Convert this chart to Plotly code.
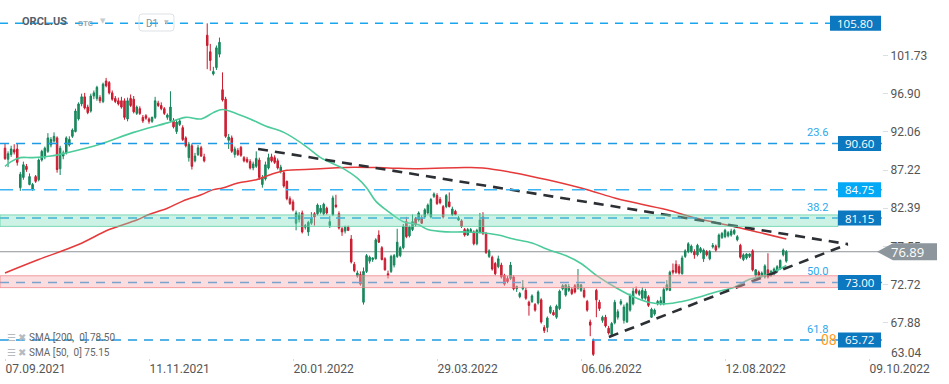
import plotly.graph_objects as go

# ---------------- data ----------------
opens = [90.0, 88.6, 89.2, 89.8, 89.9, 85.0, 86.3, 87.7, 85.4, 84.8,
         86.4, 86.0, 88.5, 88.9, 89.6, 90.4, 90.9, 91.3, 87.4, 89.0,
         89.4, 90.4, 91.5, 92.1, 93.7, 95.6, 96.5, 95.2, 94.7, 96.6,
         96.3, 96.4, 95.9, 98.5, 98.3, 97.0, 96.3, 96.0, 96.0, 96.0,
         93.7, 96.3, 96.2, 94.4, 95.0, 93.9, 94.1, 93.7, 93.4, 93.9,
         95.7, 95.4, 95.0, 93.9, 93.5, 93.45, 92.1, 93.0, 92.6, 91.3,
         88.8, 90.3, 88.4, 89.2, 90.05, 88.9, 104.3, 102.2, 99.4, 100.2,
         101.9, 97.4, 96.2, 91.0, 91.3, 89.2, 89.7, 90.1, 88.8, 88.6,
         88.3, 87.5, 87.7, 88.5, 85.4, 86.1, 87.5, 88.9, 88.8, 88.4,
         87.1, 86.9, 85.8, 83.6, 83.2, 80.5, 81.0, 81.8, 80.0, 79.4,
         80.5, 81.7, 81.7, 81.9, 81.7, 82.4, 80.2, 81.6, 82.8, 81.7,
         79.8, 79.5, 80.0, 78.5, 75.3, 73.8, 74.0, 70.5, 74.4, 75.7,
         75.9, 76.0, 79.0, 77.4, 76.0, 74.1, 74.4, 75.2, 76.3, 76.4,
         77.4, 80.7, 78.9, 79.7, 81.1, 80.9, 81.1, 81.3, 81.8, 81.3,
         83.9, 84.0, 83.5, 82.6, 82.6, 83.2, 81.6, 82.0, 80.9, 80.8,
         79.7, 79.0, 79.4, 79.4, 77.9, 79.4, 81.3, 79.2, 76.3, 76.2,
         75.4, 75.0, 75.2, 73.9, 73.5, 73.5, 73.7, 72.2, 71.2, 72.2,
         72.0, 70.5, 70.6, 70.2, 70.4, 70.8, 67.3, 67.3, 69.2, 69.2,
         68.6, 69.7, 72.2, 71.4, 72.0, 72.1, 72.6, 72.3, 72.0, 72.0,
         70.6, 68.0, 65.6, 72.0, 70.5, 68.2, 68.6, 67.2, 66.4, 67.9,
         68.6, 70.3, 68.2, 68.0, 69.5, 70.3, 72.1, 71.5, 71.0, 71.0,
         71.2, 68.6, 69.0, 70.3, 70.3, 70.3, 72.1, 72.0, 74.5, 75.3,
         75.0, 74.1, 76.3, 76.9, 76.9, 76.9, 76.5, 76.9, 76.0, 76.9,
         76.0, 77.5, 77.6, 77.5, 78.7, 78.8, 78.9, 79.0, 79.2, 78.4,
         77.7, 75.9, 76.1, 76.3, 77.0, 73.9, 74.3, 73.8, 73.7, 74.6,
         73.9, 74.1, 74.4, 74.8, 76.5, 75.7]
highs = [90.6, 89.6, 90.3, 90.5, 90.6, 87.0, 88.3, 88.0, 86.8, 85.6,
         86.6, 88.7, 89.8, 90.2, 91.9, 91.4, 92.0, 91.5, 90.3, 89.7,
         91.5, 91.5, 92.5, 95.0, 95.8, 96.9, 97.0, 95.5, 96.9, 97.3,
         97.9, 96.7, 98.3, 98.9, 98.5, 97.3, 96.6, 96.4, 96.5, 96.3,
         96.4, 96.8, 96.6, 95.4, 95.3, 94.2, 94.3, 93.9, 94.0, 96.5,
         96.0, 95.8, 95.2, 94.4, 97.2, 93.8, 93.6, 93.7, 92.9, 91.5,
         90.8, 90.6, 89.4, 90.4, 90.3, 89.3, 105.8, 103.2, 100.3, 103.0,
         104.0, 99.6, 96.5, 91.8, 91.6, 90.2, 90.0, 90.3, 89.0, 88.9,
         88.6, 88.3, 89.6, 88.8, 86.6, 88.3, 89.3, 89.3, 89.1, 88.7,
         87.9, 87.1, 85.9, 83.9, 83.5, 82.1, 81.9, 82.1, 80.4, 80.8,
         81.9, 81.9, 83.0, 82.8, 83.1, 82.6, 81.4, 84.0, 84.1, 82.0,
         80.0, 80.2, 80.2, 79.0, 75.6, 74.5, 74.4, 74.9, 76.6, 76.4,
         76.2, 78.6, 79.6, 77.6, 76.2, 74.5, 76.5, 76.6, 79.8, 77.6,
         80.4, 81.3, 80.2, 81.6, 81.3, 82.0, 81.5, 82.4, 83.0, 83.7,
         84.4, 84.3, 83.8, 82.8, 84.2, 84.4, 82.6, 82.2, 81.4, 81.0,
         79.9, 79.9, 79.9, 79.6, 79.8, 81.8, 81.9, 79.4, 77.2, 76.4,
         75.6, 76.4, 75.5, 74.1, 73.8, 75.6, 73.9, 72.6, 71.8, 73.3,
         72.3, 70.7, 71.5, 70.4, 72.0, 71.0, 67.6, 68.7, 70.1, 69.5,
         70.2, 72.1, 72.8, 72.8, 72.8, 72.4, 72.8, 74.7, 72.8, 72.3,
         70.8, 68.3, 65.9, 72.2, 70.8, 68.8, 68.9, 67.5, 68.0, 70.8,
         69.6, 70.9, 70.2, 70.5, 71.6, 72.3, 72.5, 72.1, 72.4, 72.2,
         71.4, 69.8, 69.7, 70.8, 71.2, 72.4, 73.3, 74.5, 75.4, 75.8,
         75.3, 76.4, 77.2, 78.1, 77.8, 77.2, 77.9, 77.5, 77.3, 77.1,
         77.1, 78.0, 77.8, 79.2, 79.4, 79.8, 79.5, 79.8, 79.8, 79.0,
         77.9, 76.7, 76.7, 76.7, 77.2, 74.7, 74.5, 74.4, 75.3, 76.7,
         74.6, 74.9, 75.2, 75.9, 77.3, 77.1]
lows = [88.5, 87.6, 88.9, 89.2, 87.8, 84.6, 86.0, 87.0, 85.3, 84.6,
        85.6, 85.8, 88.3, 88.6, 89.4, 90.1, 90.7, 86.9, 86.6, 88.6,
        89.2, 90.2, 91.3, 92.0, 93.5, 95.3, 94.9, 94.3, 94.5, 96.2,
        96.0, 95.7, 95.7, 97.7, 96.8, 96.0, 95.7, 95.4, 95.0, 93.6,
        93.4, 95.2, 94.4, 94.2, 94.2, 93.2, 93.6, 93.1, 93.2, 93.7,
        95.2, 94.8, 94.2, 93.6, 93.3, 92.5, 91.8, 92.8, 90.9, 90.1,
        88.3, 87.3, 88.2, 89.0, 88.9, 88.2, 100.0, 99.8, 99.2, 99.9,
        101.5, 95.9, 91.3, 89.9, 89.4, 88.8, 89.0, 88.9, 88.2, 88.1,
        87.3, 87.2, 87.5, 86.0, 85.0, 85.9, 87.3, 88.2, 88.0, 87.3,
        86.8, 85.0, 83.4, 82.8, 82.0, 79.6, 80.6, 79.2, 79.7, 78.9,
        80.3, 80.2, 81.5, 81.7, 81.5, 81.6, 79.9, 81.4, 82.4, 79.7,
        78.9, 79.2, 79.5, 75.4, 74.3, 73.6, 72.6, 70.2, 74.2, 75.4,
        75.6, 75.9, 78.0, 75.8, 74.5, 73.5, 74.2, 74.9, 76.1, 76.2,
        77.2, 78.6, 78.7, 79.5, 80.1, 80.7, 80.4, 81.1, 81.6, 81.1,
        83.7, 82.8, 82.9, 81.1, 82.4, 82.5, 81.4, 81.5, 80.8, 79.9,
        78.8, 78.9, 79.3, 77.7, 77.7, 79.2, 79.0, 76.6, 76.1, 74.5,
        73.9, 74.8, 73.5, 72.6, 72.9, 73.3, 72.0, 71.8, 71.0, 72.0,
        70.8, 68.8, 70.4, 69.3, 70.2, 67.8, 66.6, 66.7, 69.0, 68.8,
        68.4, 69.5, 72.0, 71.2, 71.8, 71.4, 71.6, 72.1, 71.8, 71.0,
        69.3, 66.2, 63.7, 68.6, 69.4, 67.9, 67.3, 66.4, 66.2, 67.7,
        68.3, 70.1, 67.8, 67.9, 69.3, 70.1, 71.5, 71.3, 70.8, 70.8,
        69.9, 68.5, 68.8, 70.1, 70.1, 70.1, 71.9, 71.9, 74.0, 74.1,
        74.0, 74.0, 76.1, 76.7, 76.7, 76.0, 76.3, 76.7, 75.6, 76.3,
        75.8, 77.3, 76.9, 77.3, 78.5, 78.6, 78.7, 78.8, 79.0, 78.2,
        76.0, 75.7, 75.9, 76.1, 74.4, 73.7, 73.8, 73.6, 73.5, 73.5,
        73.7, 73.9, 74.2, 74.6, 76.3, 75.5]
closes = [88.7, 89.3, 89.9, 89.5, 88.2, 86.7, 87.9, 87.3, 86.4, 85.4,
          85.8, 88.5, 89.6, 90.0, 91.3, 91.1, 91.5, 87.3, 90.0, 89.4,
          91.3, 91.1, 92.3, 94.7, 95.6, 96.5, 95.1, 94.5, 96.6, 97.0,
          97.7, 96.0, 98.1, 97.9, 97.0, 96.2, 95.9, 95.6, 95.2, 93.9,
          96.0, 95.4, 94.6, 95.2, 94.4, 93.45, 93.8, 93.4, 93.9, 96.0,
          95.4, 95.0, 94.4, 94.2, 95.2, 92.7, 93.3, 93.45, 91.1, 90.3,
          90.5, 87.7, 89.0, 90.05, 89.0, 88.4, 103.0, 101.1, 99.7, 102.7,
          103.4, 96.1, 91.5, 91.4, 89.6, 89.9, 89.2, 89.1, 88.4, 88.3,
          87.5, 88.0, 88.7, 86.3, 86.3, 87.9, 88.8, 88.4, 88.2, 87.5,
          87.6, 85.2, 83.6, 83.0, 82.2, 81.8, 81.5, 79.4, 80.2, 80.6,
          81.1, 81.3, 82.8, 82.4, 82.9, 81.8, 80.7, 83.7, 82.6, 79.9,
          79.4, 80.0, 79.6, 75.6, 74.5, 74.2, 72.8, 74.4, 76.4, 76.2,
          76.1, 78.4, 78.1, 75.9, 74.6, 73.9, 76.3, 76.4, 78.1, 77.4,
          80.1, 78.8, 80.0, 80.7, 80.3, 81.8, 80.5, 82.2, 82.8, 83.5,
          84.2, 83.0, 83.1, 81.3, 84.0, 82.6, 82.3, 81.6, 81.2, 80.1,
          79.0, 79.7, 79.7, 77.9, 79.6, 80.9, 79.2, 76.8, 77.0, 74.7,
          74.1, 76.0, 73.7, 72.8, 73.1, 75.2, 72.2, 72.5, 71.6, 72.4,
          71.0, 70.1, 71.3, 69.5, 71.8, 68.0, 66.9, 68.5, 69.9, 68.9,
          70.0, 71.9, 72.6, 72.7, 72.5, 71.6, 71.8, 72.8, 72.7, 71.2,
          69.5, 67.6, 63.9, 70.8, 69.7, 68.6, 67.5, 66.6, 67.8, 70.5,
          69.3, 70.6, 69.9, 70.3, 71.3, 71.9, 71.7, 71.9, 72.0, 71.9,
          70.1, 69.6, 69.5, 70.6, 70.7, 72.1, 72.7, 74.3, 74.3, 74.3,
          74.2, 76.1, 77.0, 77.9, 77.6, 76.5, 77.7, 77.3, 77.1, 76.5,
          76.9, 77.7, 77.1, 79.0, 79.2, 79.6, 79.3, 79.5, 79.6, 78.8,
          76.2, 76.5, 76.6, 76.6, 74.6, 74.6, 73.9, 74.2, 75.1, 73.7,
          74.4, 74.7, 75.0, 75.8, 77.1, 76.89]

sma50_idx = [0, 2, 5, 9, 15, 20, 31, 42, 53, 59, 64, 68, 71, 76, 80, 85, 91, 98,
             103, 110, 115, 118, 121, 125, 130, 135, 138, 144, 150, 156, 161, 166,
             172, 177, 183, 188, 193, 200, 205, 210, 216, 221, 227, 232, 238, 243,
             249, 255]
sma50_val = [87.7, 88.3, 88.8, 88.8, 89.0, 89.4, 90.5, 92.0, 93.2, 93.9, 93.7, 94.5,
             94.9, 94.3, 93.7, 92.8, 92.0, 90.3, 88.8, 87.5, 86.2, 85.0, 83.3, 82.0,
             80.7, 80.3, 79.7, 79.4, 79.4, 79.3, 79.0, 78.5, 78.0, 77.2, 76.4, 75.4,
             73.9, 72.2, 71.2, 70.5, 70.3, 70.6, 71.2, 71.8, 72.4, 73.4, 74.0, 75.15]
sma200_idx = [0, 11, 24, 34, 43, 47, 53, 58, 64, 68, 71, 76, 82, 87, 92, 98, 107,
              114, 125, 135, 150, 156, 166, 177, 188, 199, 203, 216, 225, 240, 255]
sma200_val = [74.2, 75.9, 77.8, 79.7, 80.9, 81.6, 82.4, 83.3, 84.1, 84.75, 84.95,
              85.6, 86.0, 86.7, 87.2, 87.3, 87.5, 87.6, 87.5, 87.4, 87.55, 87.5,
              86.9, 86.0, 84.95, 83.7, 83.3, 82.2, 81.2, 79.9, 78.5]

trend_down_x = [82.6, 275.1]
trend_down_y = [89.9, 77.85]
trend_up_x = [197.1, 275.1]
trend_up_y = [66.1, 77.85]

tick_idx = [0, 47, 94, 141, 188, 235, 282]
tick_text = ['07.09.2021', '11.11.2021', '20.01.2022', '29.03.2022',
             '06.06.2022', '12.08.2022', '09.10.2022']
price_ticks = [67.88, 72.72, 77.55, 82.39, 87.22, 92.06, 96.90, 101.73]
bottom_tick = '63.04'

levels = [105.80, 90.60, 84.75, 81.15, 73.00, 65.72]
fib_levels = [90.60, 81.15, 73.00, 65.72]
fib_text = ['23.6', '38.2', '50.0', '61.8']
green_zone = [80.1, 81.55]
red_zone = [72.35, 73.85]
last_price = 76.89
sma200_last = 78.50
sma50_last = 75.15

# ---------------- layout geometry ----------------
W, H = 949, 384
ML, MT = 0, 0
PW = 882                  # plot right edge at 882 px
PH = 358                  # plot bottom edge at 358 px
MR = W - ML - PW
MB = H - MT - PH
XR = [(0 - 5) / 3.064, (882 - 5) / 3.064]
YR = [101.73 - (358 - 55.5) / 7.9, 101.73 + 55.5 / 7.9]
upp = (YR[1] - YR[0]) / PH   # price units per pixel


def px(p):
    """window x pixel -> paper x"""
    return p / PW


def py(p):
    """window y pixel -> paper y"""
    return 1 - p / PH


fig = go.Figure()
x = list(range(len(closes)))
fig.add_trace(go.Candlestick(
    x=x, open=opens, high=highs, low=lows, close=closes,
    increasing=dict(line=dict(color='#15845a', width=1), fillcolor='#1a8f5f'),
    decreasing=dict(line=dict(color='#c81a2e', width=1), fillcolor='#d7263d'),
    whiskerwidth=0, hoverinfo='skip'))
fig.add_trace(go.Scatter(x=sma200_idx, y=sma200_val, mode='lines',
                         line=dict(color='#e5393a', width=1.5, shape='spline'),
                         hoverinfo='skip'))
fig.add_trace(go.Scatter(x=sma50_idx, y=sma50_val, mode='lines',
                         line=dict(color='#4ccb9b', width=1.6, shape='spline'),
                         hoverinfo='skip'))
for tx, ty in ((trend_down_x, trend_down_y), (trend_up_x, trend_up_y)):
    fig.add_trace(go.Scatter(x=tx, y=ty, mode='lines',
                             line=dict(color='#2c3034', width=2.6, dash='10px,7px'),
                             hoverinfo='skip'))

shapes = []
# last price line
shapes.append(dict(type='line', xref='paper', yref='y', x0=0, x1=1, y0=last_price,
                   y1=last_price, line=dict(color='#8e9498', width=1), layer='below'))
# horizontal dashed levels
for lvl in levels:
    if lvl == 84.75:
        ln = dict(color='#3ab4f2', width=1.5, dash='13px,9px')
    elif lvl == 105.80:
        ln = dict(color='#1aa6ee', width=1.5, dash='8px,7px')
    else:
        ln = dict(color='#1e9be4', width=1.5, dash='9px,7px')
    shapes.append(dict(type='line', xref='paper', yref='y', x0=0, x1=1, y0=lvl, y1=lvl,
                       line=ln, layer='above'))
# zones
shapes.append(dict(type='rect', xref='paper', yref='y', x0=0, x1=px(838),
                   y0=green_zone[0], y1=green_zone[1],
                   fillcolor='rgba(120,222,188,0.38)',
                   line=dict(color='rgba(90,205,160,0.75)', width=1), layer='above'))
shapes.append(dict(type='rect', xref='paper', yref='y', x0=0, x1=px(838),
                   y0=red_zone[0], y1=red_zone[1],
                   fillcolor='rgba(245,175,178,0.42)',
                   line=dict(color='rgba(240,130,135,0.75)', width=1), layer='above'))

annotations = []
# level boxes
for lvl in levels:
    txt = f'{lvl:.2f}'
    wbox = 8 * len(txt) + 3
    left = 881 - wbox
    col = '#03a9f4' if lvl == 84.75 else '#0b78bf'
    shapes.append(dict(type='rect', xref='paper', yref='y', x0=px(left), x1=px(881),
                       y0=lvl - 7.5 * upp, y1=lvl + 7.5 * upp, fillcolor=col,
                       line=dict(width=0), layer='above'))
    annotations.append(dict(xref='paper', yref='y', x=px(left + 5), y=lvl,
                            xanchor='left', yanchor='middle', text=txt, showarrow=False,
                            font=dict(family='Open Sans', size=11.5, color='white')))
# fib labels
for lvl, t in zip(fib_levels, fib_text):
    annotations.append(dict(xref='paper', yref='y', x=px(830), y=lvl, xanchor='right',
                            yanchor='bottom', yshift=2, text=t, showarrow=False,
                            font=dict(family='Roboto', size=11, color='#2aa9ee')))
annotations.append(dict(xref='paper', yref='y', x=px(839), y=levels[-1], xanchor='right',
                        yanchor='middle', yshift=0, text='08', showarrow=False,
                        font=dict(family='Roboto', size=14, color='#ff9a1f')))
# last price tag
d = 8.5 * upp
shapes.append(dict(type='path', xref='paper', yref='y',
                   path=(f'M {px(877)},{last_price} L {px(893)},{last_price + d} '
                         f'L {px(937)},{last_price + d} L {px(937)},{last_price - d} '
                         f'L {px(893)},{last_price - d} Z'),
                   fillcolor='#8c969c', line=dict(width=0), layer='above'))
annotations.append(dict(xref='paper', yref='y', x=px(889), y=last_price, xanchor='left',
                        yanchor='middle', text=f'{last_price:.2f}', showarrow=False,
                        font=dict(family='Open Sans', size=13, color='white')))
# bottom price tick
annotations.append(dict(xref='paper', yref='paper', x=px(889), y=py(353), xanchor='left',
                        yanchor='middle', text=bottom_tick, showarrow=False,
                        font=dict(family='Roboto', size=12, color='#555')))
# header
annotations.append(dict(xref='paper', yref='paper', x=px(20), y=py(22), xanchor='left',
                        yanchor='middle', text='<b>ORCL.US</b>', showarrow=False,
                        font=dict(family='Roboto', size=11, color='#56606a')))
annotations.append(dict(xref='paper', yref='paper', x=px(76), y=py(23), xanchor='left',
                        yanchor='middle', text='<b>STC</b>', showarrow=False,
                        font=dict(family='Roboto', size=8, color='#9ca8b3')))
annotations.append(dict(xref='paper', yref='paper', x=px(98), y=py(21), xanchor='left',
                        yanchor='middle', text='▼', showarrow=False,
                        font=dict(family='DejaVu Sans', size=7, color='#c5cbd0')))
shapes.append(dict(type='path', xref='paper', yref='paper',
                   path=(f'M {px(142)},{py(14)} L {px(171)},{py(14)} Q {px(174)},{py(14)} {px(174)},{py(17)} '
                         f'L {px(174)},{py(28)} Q {px(174)},{py(31)} {px(171)},{py(31)} '
                         f'L {px(142)},{py(31)} Q {px(139)},{py(31)} {px(139)},{py(28)} '
                         f'L {px(139)},{py(17)} Q {px(139)},{py(14)} {px(142)},{py(14)} Z'),
                   line=dict(color='#dde2e6', width=1), fillcolor='rgba(0,0,0,0)',
                   layer='above'))
annotations.append(dict(xref='paper', yref='paper', x=px(144), y=py(23), xanchor='left',
                        yanchor='middle', text='D1', showarrow=False,
                        font=dict(family='Roboto', size=10, color='#8a9299')))
annotations.append(dict(xref='paper', yref='paper', x=px(162), y=py(22), xanchor='left',
                        yanchor='middle', text='▼', showarrow=False,
                        font=dict(family='DejaVu Sans', size=6, color='#b9c0c6')))
# indicator legend
for yy, lab in ((337, f'SMA [200,  0] {sma200_last:.2f}'), (352, f'SMA [50,  0] {sma50_last:.2f}')):
    annotations.append(dict(xref='paper', yref='paper', x=px(5), y=py(yy), xanchor='left',
                            yanchor='middle', showarrow=False,
                            text=("<span style='color:#b5bbc0'>☰ ✖</span> "
                                  f"<span style='color:#666'>{lab}</span>"),
                            font=dict(family='Roboto', size=10, color='#666')))

fig.update_layout(
    width=W, height=H, margin=dict(l=ML, r=MR, t=MT, b=MB),
    paper_bgcolor='white', plot_bgcolor='white', showlegend=False,
    shapes=shapes, annotations=annotations,
    xaxis=dict(range=XR, showgrid=False, zeroline=False, showline=False,
               rangeslider=dict(visible=False), tickmode='array', tickvals=tick_idx,
               ticktext=tick_text, ticks='outside', ticklen=2, tickcolor='#d5d8db',
               ticklabelposition='outside right',
               tickfont=dict(family='Roboto', size=12, color='#555')),
    yaxis=dict(range=YR, side='right', showgrid=False, zeroline=False, showline=False,
               tickmode='array', tickvals=price_ticks,
               ticktext=[f'{v:.2f}' for v in price_ticks], ticks='outside', ticklen=5,
               tickcolor='#dcdfe2', tickfont=dict(family='Roboto', size=12, color='#555')),
)
# remove the default 8px page margin so the figure sits at the window's top-left corner
fig.write_html('out.html', config={'displayModeBar': False, 'staticPlot': True},
               post_script="document.body.style.margin='0px';")
